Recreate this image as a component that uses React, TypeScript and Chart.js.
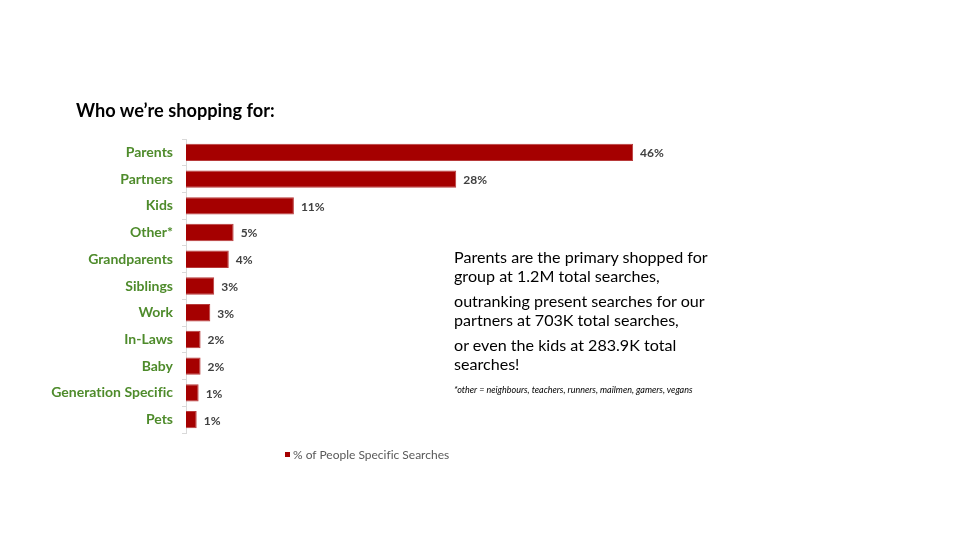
import React, { useEffect, useRef } from "react";
import { Chart, registerables } from "chart.js";

Chart.register(...registerables);

const categories = [
  "Parents",
  "Partners",
  "Kids",
  "Other*",
  "Grandparents",
  "Siblings",
  "Work",
  "In-Laws",
  "Baby",
  "Generation Specific",
  "Pets",
];
const shareValues = [46, 27.8, 11.1, 4.9, 4.4, 2.9, 2.5, 1.5, 1.5, 1.3, 1.1];
const seriesName = "% of People Specific Searches";
const titleText = "Who we\u2019re shopping for:";
const paragraphs = [
  "Parents are the primary shopped for group at 1.2M total searches,",
  "outranking present searches for our partners at 703K total searches,",
  "or even the kids at 283.9K total searches!",
];
const footnote = "*other = neighbours, teachers, runners, mailmen, gamers, vegans";

const BAR_RED = "#A50000";
const LABEL_GREEN = "#4E8B2B";

const dataLabelPlugin = {
  id: "barValueLabels",
  afterDatasetsDraw(chart: any) {
    const ctx = chart.ctx;
    const meta = chart.getDatasetMeta(0);
    ctx.save();
    ctx.font = "bold 12px Lato";
    ctx.fillStyle = "#404040";
    ctx.textAlign = "left";
    ctx.textBaseline = "middle";
    meta.data.forEach((el: any, i: number) => {
      const v = chart.data.datasets[0].data[i] as number;
      ctx.fillText(Math.round(v) + "%", el.x + 7, el.y + 1);
    });
    ctx.restore();
  },
};

export default function App() {
  const canvasRef = useRef<HTMLCanvasElement | null>(null);

  useEffect(() => {
    if (!canvasRef.current) return;
    const chart = new Chart(canvasRef.current, {
      type: "bar",
      data: {
        labels: categories,
        datasets: [
          {
            label: seriesName,
            data: shareValues,
            backgroundColor: BAR_RED,
            borderColor: "#B83A3A",
            borderWidth: 1,
            barPercentage: 0.65,
            categoryPercentage: 1,
          },
        ],
      },
      options: {
        indexAxis: "y",
        animation: false,
        responsive: false,
        maintainAspectRatio: false,
        layout: { padding: { left: 0, right: 288, top: 139, bottom: 107 } },
        plugins: {
          legend: { display: false },
          title: { display: false },
          tooltip: { enabled: false },
        },
        scales: {
          x: {
            display: false,
            min: 0,
            max: 50,
          },
          y: {
            afterFit: (scale: any) => {
              scale.width = 186;
            },
            grid: {
              display: true,
              offset: true,
              drawOnChartArea: false,
              drawTicks: true,
              tickLength: 4,
              color: "#D9D9D9",
            },
            border: { display: true, color: "#D9D9D9" },
            ticks: {
              padding: 9,
              color: LABEL_GREEN,
              font: { family: "Lato", size: 14, weight: "bold" },
            },
          },
        },
      },
      plugins: [dataLabelPlugin],
    } as any);
    return () => chart.destroy();
  }, []);

  return (
    <div
      style={{
        position: "absolute",
        left: 0,
        top: 0,
        width: 960,
        height: 540,
        background: "#fff",
        fontFamily: "Lato, sans-serif",
        fontVariantLigatures: "none",
        overflow: "hidden",
      }}
    >
      <canvas
        ref={canvasRef}
        width={960}
        height={540}
        style={{ position: "absolute", left: 0, top: 0, width: 960, height: 540 }}
      />
      <div
        style={{
          position: "absolute",
          left: 76,
          top: 99,
          fontSize: 18.2,
          lineHeight: "22px",
          fontWeight: 700,
          color: "#000",
          whiteSpace: "nowrap",
        }}
      >
        {titleText}
      </div>
      <div
        style={{
          position: "absolute",
          left: 454,
          top: 248,
          width: 272,
          fontSize: 16.1,
          lineHeight: "18.5px",
          color: "#000",
        }}
      >
        {paragraphs.map((p, i) => (
          <div key={i} style={{ marginBottom: 7 }}>
            {p}
          </div>
        ))}
        <div
          style={{
            marginTop: 11,
            fontSize: 9,
            lineHeight: "12px",
            fontStyle: "italic",
            whiteSpace: "nowrap",
          }}
        >
          {footnote}
        </div>
      </div>
      <div
        style={{
          position: "absolute",
          left: 285,
          top: 446,
          height: 16,
          display: "flex",
          alignItems: "center",
          whiteSpace: "nowrap",
        }}
      >
        <span
          style={{
            display: "inline-block",
            width: 5,
            height: 5,
            background: BAR_RED,
            marginRight: 3,
          }}
        />
        <span style={{ fontSize: 12, color: "#595959" }}>{seriesName}</span>
      </div>
    </div>
  );
}
